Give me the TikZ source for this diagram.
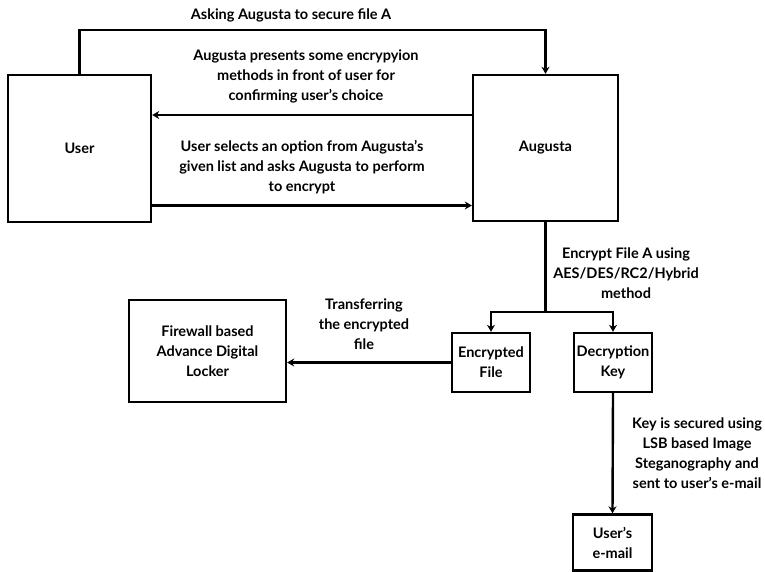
\documentclass[tikz,border=0pt]{standalone}
\usepackage{fontspec}
\setmainfont{Lato}
\usetikzlibrary{arrows.meta}

\tikzset{
    box/.style={draw, line width=2.4pt, inner sep=0pt, align=center},
    arr/.style={line width=2.4pt, -{Stealth[length=7pt,width=8pt]}},
    lbl/.style={align=center, inner sep=0pt},
}

\begin{document}
\begin{tikzpicture}[x=1pt, y=-1pt, font=\fontsize{14.5}{20}\selectfont\bfseries]
    % frame
    \useasboundingbox (0,0) rectangle (765,571);

    % boxes
    \node[box, minimum width=143pt, minimum height=147pt] (user) at (79.5,148.5) {User};
    \node[box, minimum width=145pt, minimum height=146pt] (augusta) at (545.5,148) {Augusta};
    \node[box, minimum width=157pt, minimum height=102pt] (firewall) at (207.5,351) {Firewall based\\Advance Digital\\Locker};
    \node[box, minimum width=78pt, minimum height=59pt] (encfile) at (491,362.5) {Encrypted\\File};
    \node[box, minimum width=78pt, minimum height=59pt] (deckey) at (613,362.5) {Decryption\\Key};
    \node[box, minimum width=79pt, minimum height=56pt] (email) at (612.5,542.5) {User's\\e-mail};

    % labels
    \node[lbl] (ask) at (291,15) {Asking Augusta to secure file A};
    \node[lbl] (present) at (306,76) {Augusta presents some encrypyion\\methods in front of user for\\confirming user's choice};
    \node[lbl] (select) at (302,167) {User selects an option from Augusta's\\given list and asks Augusta to perform\\to encrypt};
    \node[lbl] (encrypt) at (626,273) {Encrypt File A using\\AES/DES/RC2/Hybrid\\method};
    \node[lbl] (transfer) at (364,324) {Transferring\\the encrypted\\file};
    \node[lbl] (keysec) at (697,453) {Key is secured using\\LSB based Image\\Steganography and\\sent to user's e-mail};

    % arrows
    \draw[arr] (user.north) -- ++(0,-44) -| (augusta.north);
    \draw[arr] ([yshift=33pt]augusta.west) coordinate (back) -- (back -| user.east);
    \draw[arr] ([yshift=-57pt]user.east) coordinate (fwd) -- (fwd -| augusta.west);
    \draw[line width=2.4pt] (augusta.south) -- ++(0,90) coordinate (split);
    \draw[arr] (split) -| (encfile.north);
    \draw[arr] (split) -| (deckey.north);
    \draw[arr] (encfile.west) -- (encfile.west -| firewall.east);
    \draw[arr] (deckey.south) -- (email.north);

\end{tikzpicture}
\end{document}
